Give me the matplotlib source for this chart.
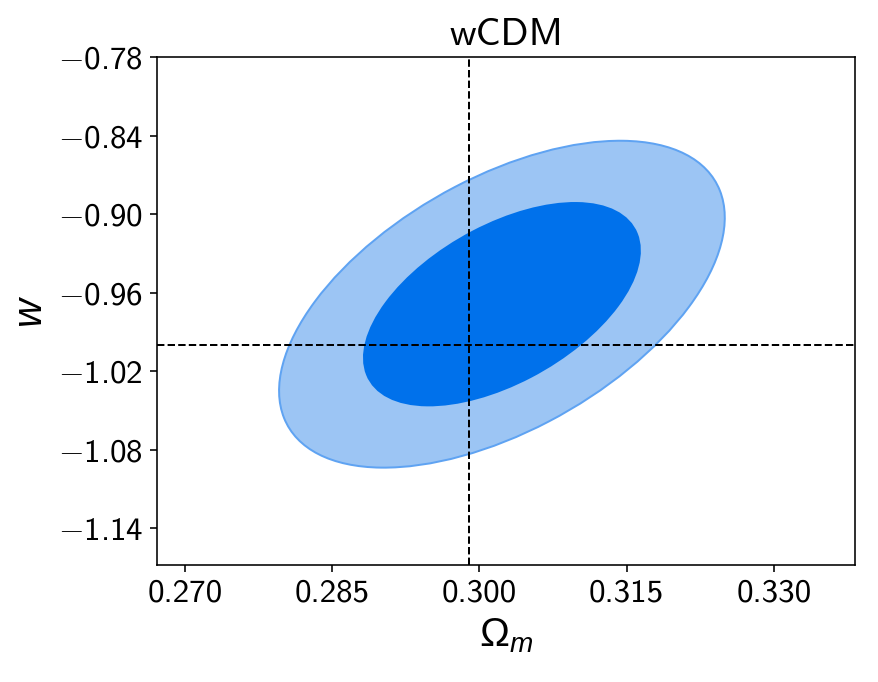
import numpy as np
import matplotlib
matplotlib.use("Agg")
import matplotlib.pyplot as plt
from matplotlib.patches import Ellipse
from matplotlib.ticker import FuncFormatter

# wCDM constraints (Gaussian approximation)
param_names = ["Omega_m", "w"]
mean = [0.3023, -0.9688]
sigma = [0.00927, 0.0510]
rho = 0.53
delta_chi2 = [5.991, 2.2957]  # 95% and 68% levels
fill_colors = ["#9CC5F4", "#0071EB"]
edge_colors = ["#5FA3F2", "#0071EB"]

# fiducial values (dashed lines)
fiducial = [0.2989, -1.0]

x_ticks = [0.270, 0.285, 0.300, 0.315, 0.330]
y_ticks = [-0.78, -0.84, -0.90, -0.96, -1.02, -1.08, -1.14]
x_range = [0.26718, 0.33825]
y_range = [-1.168, -0.78]

plt.rcParams["font.family"] = ["cmss10", "DejaVu Sans"]
plt.rcParams["axes.formatter.use_mathtext"] = False
plt.rcParams["mathtext.fontset"] = "cm"
plt.rcParams["mathtext.rm"] = "Liberation Sans"
plt.rcParams["mathtext.it"] = "Liberation Sans:italic"


def tick_fmt(decimals):
    def fmt(v, pos):
        s = f"{abs(v):.{decimals}f}"
        return "$-$" + s if v < 0 else s
    return FuncFormatter(fmt)


fig = plt.figure(figsize=(878 / 144, 682 / 144), dpi=144)
ax = fig.add_axes([157 / 878, 1 - 565 / 682, 698 / 878, 508 / 682])

cov = np.array([[sigma[0] ** 2, rho * sigma[0] * sigma[1]],
                [rho * sigma[0] * sigma[1], sigma[1] ** 2]])
evals, evecs = np.linalg.eigh(cov)
angle = np.degrees(np.arctan2(evecs[1, 1], evecs[0, 1]))

for k, fc, ec in zip(delta_chi2, fill_colors, edge_colors):
    w_ax = 2 * np.sqrt(k * evals[1])
    h_ax = 2 * np.sqrt(k * evals[0])
    ell = Ellipse(xy=(mean[0], mean[1]), width=w_ax, height=h_ax, angle=angle,
                  facecolor=fc, edgecolor=ec, lw=1.0, zorder=1)
    ax.add_patch(ell)

ax.axvline(fiducial[0], color="k", ls="--", lw=1, zorder=2)
ax.axhline(fiducial[1], color="k", ls="--", lw=1, zorder=2)

ax.set_xlim(x_range)
ax.set_ylim(y_range)
ax.set_xticks(x_ticks)
ax.set_yticks(y_ticks)
ax.xaxis.set_major_formatter(tick_fmt(3))
ax.yaxis.set_major_formatter(tick_fmt(2))
ax.tick_params(labelsize=16.5)

ax.set_xlabel(r"$\mathrm{\Omega}_m$", fontsize=20, math_fontfamily="custom")
ax.set_ylabel(r"$w$", fontsize=20, math_fontfamily="custom")
ax.set_title("wCDM", fontsize=19.5)

fig.savefig("out.png", dpi=144)
